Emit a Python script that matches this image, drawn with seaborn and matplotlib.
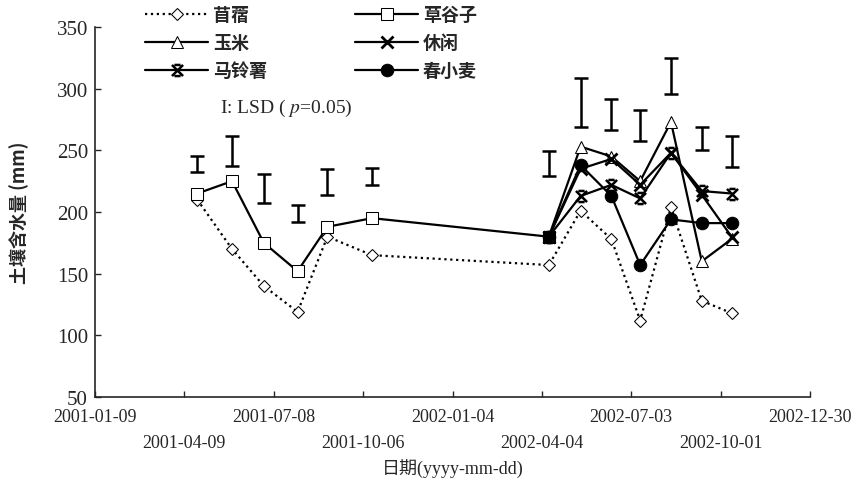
import matplotlib
matplotlib.use("Agg")
import matplotlib.pyplot as plt
from matplotlib.path import Path
import pandas as pd
import seaborn as sns

# sampling dates
dates_2001 = ["2001-04-22", "2001-05-27", "2001-06-28", "2001-08-01", "2001-08-31", "2001-10-15"]
dates_2002 = ["2002-04-11", "2002-05-13", "2002-06-13", "2002-07-12", "2002-08-12", "2002-09-12", "2002-10-12"]

# soil water (mm)
muxu = [210, 170, 140, 119, 180, 165, 157, 201, 178, 112, 204, 128, 118]
caoguzi = [215, 225, 175, 152, 188, 195, 180]
yumi = [180, 253, 245, 225, 273, 160, 178]
xiuxian = [180, 235, 243, 222, 248, 214, 180]
malingshu = [180, 213, 222, 211, 248, 217, 215]
chunxiaomai = [180, 238, 213, 157, 194, 191, 191]

# LSD (p=0.05): bar centre and full length
lsd_center = [239, 249.5, 219, 199, 224.5, 229, 239.5, 289, 279, 270, 310, 259.6, 248.8]
lsd_value = [13, 24, 24, 14, 21, 14, 20, 40, 25, 25, 29, 18, 25]

tick_dates = ["2001-01-09", "2001-04-09", "2001-07-08", "2001-10-06", "2002-01-04",
              "2002-04-04", "2002-07-03", "2002-10-01", "2002-12-30"]

sns.set_style("ticks")
plt.rcParams["font.family"] = ["Liberation Serif", "Noto Sans CJK SC"]
plt.rcParams["mathtext.fontset"] = "stix"

cn = ["Noto Sans CJK SC", "DejaVu Sans"]

all_dates = pd.to_datetime(dates_2001 + dates_2002)
d2002 = pd.to_datetime(dates_2002)

# x with short horizontal caps, like the potato marker
ast_path = Path(
    [(-1, -1), (1, 1), (-1, 1), (1, -1), (-0.55, 1), (0.55, 1), (-0.55, -1), (0.55, -1)],
    [Path.MOVETO, Path.LINETO, Path.MOVETO, Path.LINETO,
     Path.MOVETO, Path.LINETO, Path.MOVETO, Path.LINETO],
)

fig = plt.figure(figsize=(8.59, 4.89), dpi=100)
ax = fig.add_axes([95 / 859, 91 / 489, 715 / 859, 370 / 489])

series = [
    ("苜蓿", all_dates, muxu, dict(linestyle=":", marker="D", markersize=6, markerfacecolor="white", linewidth=1.6)),
    ("草谷子", pd.to_datetime(dates_2001 + dates_2002[:1]), caoguzi,
     dict(linestyle="-", marker="s", markersize=9, markerfacecolor="white", linewidth=1.6)),
    ("玉米", d2002, yumi, dict(linestyle="-", marker="^", markersize=9, markerfacecolor="white", linewidth=1.6)),
    ("休闲", d2002, xiuxian, dict(linestyle="-", marker="x", markersize=8, markeredgewidth=2.0, linewidth=1.6)),
    ("马铃薯", d2002, malingshu, dict(linestyle="-", marker=ast_path, markersize=8, markeredgewidth=1.8, linewidth=1.6)),
    ("春小麦", d2002, chunxiaomai, dict(linestyle="-", marker="o", markersize=9, linewidth=1.6)),
]

handles = {}
for name, x, y, kw in series:
    df = pd.DataFrame({"date": x, "water": y})
    sns.lineplot(data=df, x="date", y="water", ax=ax, color="black",
                 markeredgecolor="black", label=name, **kw)
    handles[name] = ax.lines[-1]

ax.errorbar(all_dates, lsd_center, yerr=[v / 2 for v in lsd_value], fmt="none",
            ecolor="black", elinewidth=1.8, capsize=5, capthick=1.8)

ax.set_xlim(pd.Timestamp(tick_dates[0]), pd.Timestamp(tick_dates[-1]))
ax.set_ylim(50, 350)
ax.set_yticks(range(50, 351, 50))

# two rows of date labels
ax.set_xticks(pd.to_datetime(tick_dates[::2]))
ax.set_xticklabels(tick_dates[::2])
ax.set_xticks(pd.to_datetime(tick_dates[1::2]), minor=True)
ax.set_xticklabels(tick_dates[1::2], minor=True)
ax.tick_params(axis="x", which="both", direction="in", labelsize=13, length=4, width=1)
ax.tick_params(axis="x", which="major", pad=8)
ax.tick_params(axis="x", which="minor", pad=27)
ax.tick_params(axis="y", direction="in", labelsize=15, length=4, width=1, pad=5)
for s in ["top", "right"]:
    ax.spines[s].set_visible(False)
for s in ["left", "bottom"]:
    ax.spines[s].set_linewidth(1.2)

ax.set_xlabel("日期(yyyy-mm-dd)", fontsize=13, fontfamily=["Liberation Serif", "Noto Sans CJK SC"], labelpad=5)
ax.set_ylabel("土壤含水量 (mm)", fontsize=13, fontfamily=cn, fontweight="bold", labelpad=20)

order = ["苜蓿", "玉米", "马铃薯", "草谷子", "休闲", "春小麦"]
if ax.legend_:
    ax.legend_.remove()
fig.legend([handles[n] for n in order], order, loc="upper left",
           bbox_to_anchor=(145 / 859, 1 - 6 / 489), ncol=2, frameon=False,
           borderaxespad=0, borderpad=0,
           handlelength=3.5, columnspacing=4.9, labelspacing=0.5,
           handletextpad=0.25, prop={"family": cn, "size": 13, "weight": "bold"})

fig.text(220 / 859, 1 - 108 / 489, "I: LSD ( $p$=0.05)", fontsize=14, ha="left", va="center")

fig.savefig("out.png", dpi=100)
